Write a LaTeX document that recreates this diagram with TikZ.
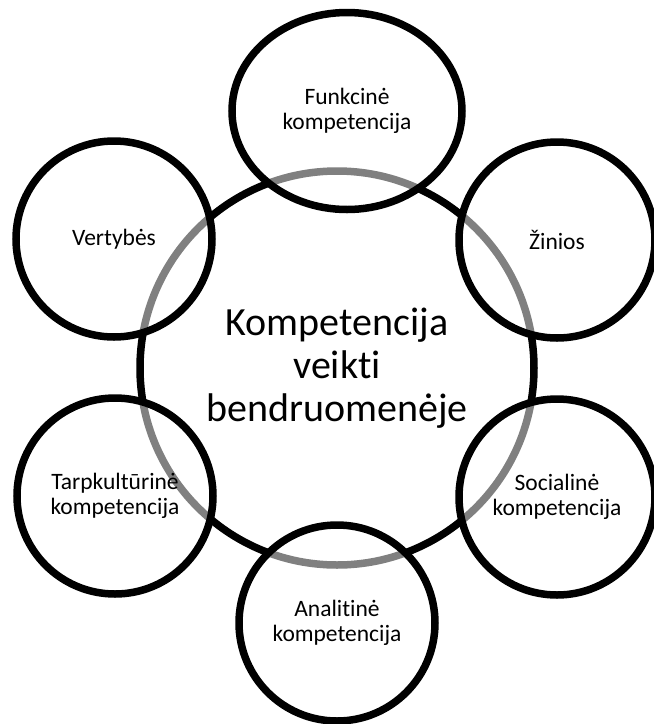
\documentclass[tikz,border=0pt]{standalone}
\usepackage{fontspec}
\setmainfont{Carlito}[Ligatures=NoCommon]
\usetikzlibrary{shapes.geometric}

\begin{document}
\begin{tikzpicture}[x=1pt,y=-1pt]
					\tikzstyle{hub}=[circle,draw=black,line width=7.5pt,minimum size=394pt,inner sep=0pt,align=center,font=\fontsize{40}{43}\selectfont]
					\tikzstyle{petal}=[circle,draw=black,line width=7.5pt,fill=white,fill opacity=0.5,text opacity=1,minimum size=196pt,inner sep=0pt,align=center,font=\fontsize{23.5}{25.5}\selectfont]
					\useasboundingbox (0,0) rectangle (654,724);
					\node[hub] (c) at (337,368) {Kompetencija\\veikti\\bendruomenėje};
					\node[petal,ellipse,minimum width=230pt,minimum height=197pt] (f) at (347,111) {Funkcinė\\kompetencija};
					\node[petal] (z) at (557,240) {Žinios};
					\node[petal] (s) at (557,497) {Socialinė\\kompetencija};
					\node[petal] (a) at (337,623) {Analitinė\\kompetencija};
					\node[petal] (t) at (115,496) {Tarpkultūrinė\\kompetencija};
					\node[petal] (v) at (114,239) {Vertybės};
\end{tikzpicture}
\end{document}
